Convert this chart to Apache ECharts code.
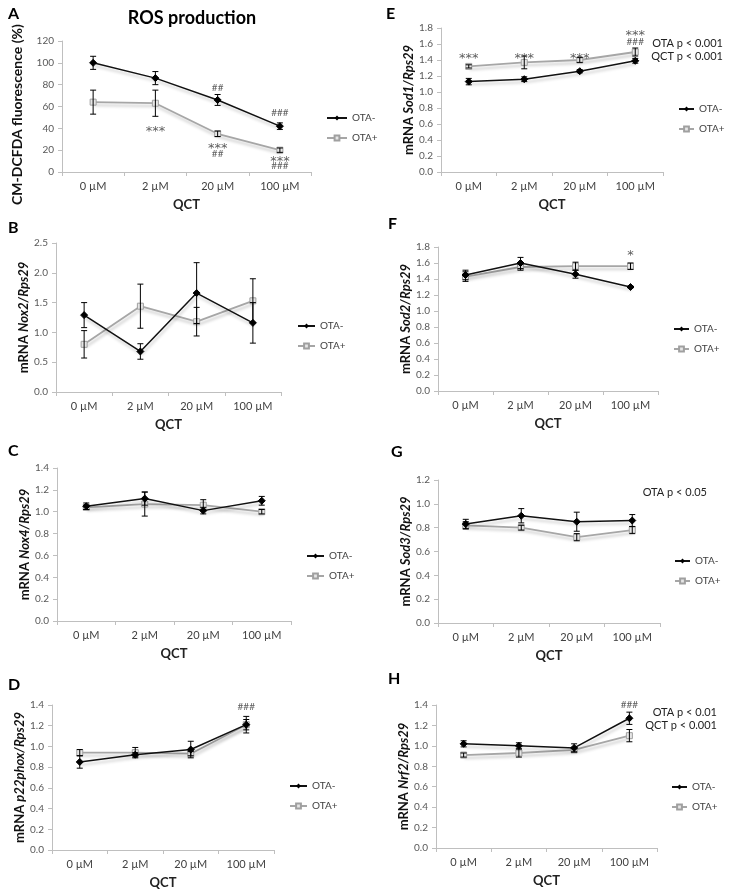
<!DOCTYPE html>
<html>
<head>
<meta charset="utf-8">
<script src="https://cdn.jsdelivr.net/npm/echarts@6/dist/echarts.min.js"></script>
<style>
html,body{margin:0;padding:0;background:#fff;}
#chart{width:732px;height:892px;}
</style>
</head>
<body>
<div id="chart"></div>
<script>
// ---------- DATA ----------
const categories = ['0 µM', '2 µM', '20 µM', '100 µM'];
const seriesNames = ['OTA-', 'OTA+'];

// A: ROS production (CM-DCFDA fluorescence %)
const rosMinus = [100, 86, 66, 42];
const rosMinusSd = [6, 6, 5, 3];
const rosPlus = [64, 63, 35, 20];
const rosPlusSd = [11, 12, 2.5, 2];
const rosMarks = [[1, 40, '***'], [2, 77, '##'], [2, 24, '***'], [2, 16.5, '##'], [3, 54, '###'], [3, 12, '***'], [3, 5.5, '###']];

// B: Nox2
const nox2Minus = [1.29, 0.68, 1.66, 1.16];
const nox2MinusSd = [0.21, 0.13, 0.51, 0.34];
const nox2Plus = [0.80, 1.44, 1.18, 1.53];
const nox2PlusSd = [0.23, 0.37, 0.24, 0.37];

// C: Nox4
const nox4Minus = [1.05, 1.12, 1.01, 1.10];
const nox4MinusSd = [0.03, 0.06, 0.03, 0.04];
const nox4Plus = [1.04, 1.07, 1.06, 1.00];
const nox4PlusSd = [0.02, 0.11, 0.05, 0.02];

// D: p22phox
const p22Minus = [0.85, 0.92, 0.97, 1.21];
const p22MinusSd = [0.06, 0.02, 0.08, 0.08];
const p22Plus = [0.94, 0.94, 0.93, 1.21];
const p22PlusSd = [0.03, 0.05, 0.02, 0.05];
const p22Marks = [[3, 1.38, '###']];

// E: Sod1
const sod1Minus = [1.13, 1.16, 1.26, 1.39];
const sod1MinusSd = [0.04, 0.03, 0.02, 0.03];
const sod1Plus = [1.32, 1.37, 1.40, 1.50];
const sod1PlusSd = [0.02, 0.08, 0.03, 0.05];
const sod1Marks = [[0, 1.46, '***'], [1, 1.46, '***'], [2, 1.46, '***'], [3, 1.74, '***'], [3, 1.63, '###']];
const sod1Stats = ['OTA p < 0.001', 'QCT p < 0.001'];

// F: Sod2
const sod2Minus = [1.45, 1.60, 1.46, 1.30];
const sod2MinusSd = [0.06, 0.07, 0.05, 0.01];
const sod2Plus = [1.43, 1.55, 1.56, 1.56];
const sod2PlusSd = [0.06, 0.04, 0.05, 0.04];
const sod2Marks = [[3, 1.73, '*']];

// G: Sod3
const sod3Minus = [0.83, 0.90, 0.85, 0.86];
const sod3MinusSd = [0.04, 0.06, 0.08, 0.05];
const sod3Plus = [0.82, 0.80, 0.72, 0.78];
const sod3PlusSd = [0.03, 0.02, 0.03, 0.03];
const sod3Stats = ['OTA p < 0.05'];

// H: Nrf2
const nrf2Minus = [1.02, 1.00, 0.98, 1.27];
const nrf2MinusSd = [0.03, 0.03, 0.04, 0.06];
const nrf2Plus = [0.91, 0.93, 0.96, 1.10];
const nrf2PlusSd = [0.02, 0.04, 0.02, 0.06];
const nrf2Marks = [[3, 1.40, '###']];
const nrf2Stats = ['OTA p < 0.01', 'QCT p < 0.001'];

// ---------- LAYOUT / STYLE ----------
const FONT = 'Lato, "Open Sans", sans-serif';
const panels = [
  {letter:'A', lx:8, ly:6, grid:{left:62, top:41, width:249, height:131}, max:120, interval:20, dec:0,
   yname:'CM-DCFDA fluorescence (%)', ynameSize:14, nameGap:38,
   minus:rosMinus, minusSd:rosMinusSd, plus:rosPlus, plusSd:rosPlusSd, marks:rosMarks, legend:{left:326, top:113, w:20}},
  {letter:'B', lx:8, ly:220, grid:{left:56, top:243, width:225, height:149}, max:2.5, interval:0.5, dec:1,
   gene:'Nox2', nameGap:22,
   minus:nox2Minus, minusSd:nox2MinusSd, plus:nox2Plus, plusSd:nox2PlusSd, marks:[], legend:{left:297, top:321, w:17}},
  {letter:'C', lx:8, ly:443, grid:{left:57, top:468, width:234, height:153}, max:1.4, interval:0.2, dec:1,
   gene:'Nox4', nameGap:22,
   minus:nox4Minus, minusSd:nox4MinusSd, plus:nox4Plus, plusSd:nox4PlusSd, marks:[], legend:{left:306, top:551, w:17}},
  {letter:'D', lx:8, ly:677, grid:{left:52, top:705, width:222, height:145}, max:1.4, interval:0.2, dec:1,
   gene:'p22phox', nameGap:22,
   minus:p22Minus, minusSd:p22MinusSd, plus:p22Plus, plusSd:p22PlusSd, marks:p22Marks, legend:{left:289, top:781, w:17}},
  {letter:'E', lx:386, ly:6, grid:{left:441, top:28, width:222, height:144}, max:1.8, interval:0.2, dec:1,
   gene:'Sod1', nameGap:22,
   minus:sod1Minus, minusSd:sod1MinusSd, plus:sod1Plus, plusSd:sod1PlusSd, marks:sod1Marks, legend:{left:678, top:104, w:15},
   stats:sod1Stats, statsX:723, statsY:43},
  {letter:'F', lx:388, ly:216, grid:{left:438, top:247, width:220, height:144}, max:1.8, interval:0.2, dec:1,
   gene:'Sod2', nameGap:22,
   minus:sod2Minus, minusSd:sod2MinusSd, plus:sod2Plus, plusSd:sod2PlusSd, marks:sod2Marks, legend:{left:673, top:324, w:15}},
  {letter:'G', lx:391, ly:444, grid:{left:438, top:480, width:222, height:143}, max:1.2, interval:0.2, dec:1,
   gene:'Sod3', nameGap:22,
   minus:sod3Minus, minusSd:sod3MinusSd, plus:sod3Plus, plusSd:sod3PlusSd, marks:[], legend:{left:674, top:556, w:15},
   stats:sod3Stats, statsX:707, statsY:492},
  {letter:'H', lx:388, ly:671, grid:{left:436, top:705, width:221, height:143}, max:1.4, interval:0.2, dec:1,
   gene:'Nrf2', nameGap:22,
   minus:nrf2Minus, minusSd:nrf2MinusSd, plus:nrf2Plus, plusSd:nrf2PlusSd, marks:nrf2Marks, legend:{left:671, top:782, w:15},
   stats:nrf2Stats, statsX:717, statsY:712}
];

const grids = [], xAxes = [], yAxes = [], series = [], legends = [], graphics = [];

function errData(vals, sds) { return vals.map((v, i) => [i, v, sds[i]]); }

function errRender(params, api) {
  const x = api.value(0), m = api.value(1), e = api.value(2);
  const top = api.coord([x, m + e]);
  const bot = api.coord([x, m - e]);
  const w = 3;
  const st = {stroke:'#000', lineWidth:1};
  return {type:'group', children:[
    {type:'line', shape:{x1:top[0], y1:top[1], x2:bot[0], y2:bot[1]}, style:st},
    {type:'line', shape:{x1:top[0]-w, y1:top[1], x2:top[0]+w, y2:top[1]}, style:st},
    {type:'line', shape:{x1:bot[0]-w, y1:bot[1], x2:bot[0]+w, y2:bot[1]}, style:st}
  ]};
}

panels.forEach((p, i) => {
  grids.push(Object.assign({containLabel:false}, p.grid));
  xAxes.push({
    type:'category', gridIndex:i, data:categories, boundaryGap:true,
    axisLine:{lineStyle:{color:'#bfbfbf', width:1}},
    axisTick:{show:true, length:4, lineStyle:{color:'#bfbfbf'}},
    axisLabel:{color:'#404040', fontSize:11, fontFamily:FONT, margin:9},
    name:'QCT', nameLocation:'middle', nameGap:26,
    nameTextStyle:{fontWeight:'bold', fontSize:13, color:'#222', fontFamily:FONT}
  });
  const nameCfg = p.yname
    ? {name:p.yname, nameTextStyle:{fontWeight:'bold', fontSize:p.ynameSize, color:'#111', fontFamily:FONT, padding:[0, 16, 0, 0]}}
    : {name:'{n|mRNA }{i|' + p.gene + '/Rps29}',
       nameTextStyle:{fontFamily:FONT, rich:{
         n:{fontWeight:'bold', fontSize:13, color:'#111', fontFamily:FONT},
         i:{fontWeight:'bold', fontStyle:'italic', fontSize:13, color:'#111', fontFamily:FONT}}}};
  yAxes.push(Object.assign({
    type:'value', gridIndex:i, min:0, max:p.max, interval:p.interval,
    axisLine:{show:true, lineStyle:{color:'#bfbfbf', width:1}},
    axisTick:{show:true, length:4, lineStyle:{color:'#bfbfbf'}},
    splitLine:{show:false},
    axisLabel:{color:'#595959', fontSize:10, fontFamily:FONT, margin:8,
      formatter: v => v.toFixed(p.dec)},
    nameLocation:'middle', nameRotate:90, nameGap:p.nameGap
  }, nameCfg));

  const shadow = {shadowColor:'rgba(0,0,0,0.22)', shadowBlur:3, shadowOffsetX:1, shadowOffsetY:3};
  series.push({
    type:'line', name:'OTA+', xAxisIndex:i, yAxisIndex:i, data:p.plus,
    symbol:'rect', symbolSize:6, z:3,
    lineStyle:Object.assign({color:'#a6a6a6', width:1.8}, shadow),
    itemStyle:{color:'#e6e6e6', borderColor:'#a0a0a0', borderWidth:1},
    emphasis:{disabled:true}
  });
  series.push({
    type:'line', name:'OTA-', xAxisIndex:i, yAxisIndex:i, data:p.minus,
    symbol:'diamond', symbolSize:7, z:4,
    lineStyle:Object.assign({color:'#111', width:1.5}, shadow),
    itemStyle:{color:'#000', borderColor:'#000'},
    emphasis:{disabled:true}
  });
  series.push({type:'custom', name:'errPlus', xAxisIndex:i, yAxisIndex:i, data:errData(p.plus, p.plusSd), renderItem:errRender, z:5, silent:true});
  series.push({type:'custom', name:'errMinus', xAxisIndex:i, yAxisIndex:i, data:errData(p.minus, p.minusSd), renderItem:errRender, z:5, silent:true});
  if (p.marks.length) {
    series.push({
      type:'scatter', name:'marks', xAxisIndex:i, yAxisIndex:i, symbolSize:0, silent:true, z:6,
      data:p.marks.map(m => {
        const isStar = m[2].charAt(0) === '*';
        return {value:[m[0], m[1]], label: isStar
          ? {formatter:m[2], fontSize:13, offset:[0, 3], fontFamily:'"DejaVu Sans", sans-serif'}
          : {formatter:m[2], fontSize:10, offset:[0, 0], fontFamily:FONT}};
      }),
      label:{show:true, position:'inside', color:'#333', fontSize:11}
    });
  }
  legends.push({
    data:seriesNames, orient:'vertical', left:p.legend.left, top:p.legend.top,
    itemWidth:p.legend.w, itemHeight:6, itemGap:10, selectedMode:false, padding:0,
    textStyle:{color:'#404040', fontSize:10, fontFamily:FONT}
  });
  graphics.push({type:'text', left:p.lx, top:p.ly, style:{text:p.letter, font:'bold 16px ' + FONT, fill:'#000'}});
  if (p.stats) {
    p.stats.forEach((s, k) => {
      graphics.push({type:'text', x:p.statsX, y:p.statsY + k * 13,
        style:{text:s, font:'11px ' + FONT, fill:'#222', textAlign:'right', textVerticalAlign:'middle'}});
    });
  }
});

graphics.push({type:'text', x:192, y:18, style:{text:'ROS production', font:'bold 18px ' + FONT, fill:'#000', textAlign:'center', textVerticalAlign:'middle'}});

const chart = echarts.init(document.getElementById('chart'), null, {renderer:'canvas'});
chart.setOption({
  animation:false,
  backgroundColor:'#fff',
  grid:grids, xAxis:xAxes, yAxis:yAxes, series:series, legend:legends, graphic:graphics
});
</script>
</body>
</html>
